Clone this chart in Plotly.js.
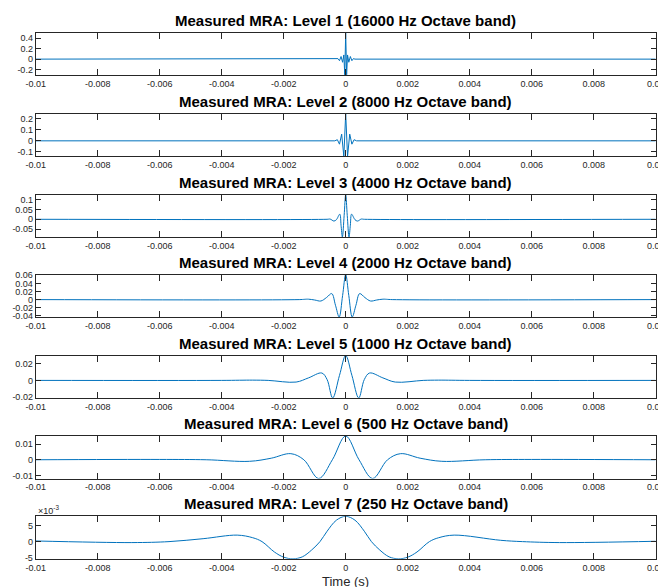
<!DOCTYPE html>
<html>
<head>
<meta charset="utf-8">
<script src="https://cdn.plot.ly/plotly-3.0.1.min.js"></script>
<style>html,body{margin:0;padding:0;background:#fff;overflow:hidden;}#chart{width:658px;height:587px;}</style>
</head>
<body>
<div id="chart"></div>
<script>
// ---- data ----
const levelTitles = [
  "Measured MRA: Level 1 (16000 Hz Octave band)",
  "Measured MRA: Level 2 (8000 Hz Octave band)",
  "Measured MRA: Level 3 (4000 Hz Octave band)",
  "Measured MRA: Level 4 (2000 Hz Octave band)",
  "Measured MRA: Level 5 (1000 Hz Octave band)",
  "Measured MRA: Level 6 (500 Hz Octave band)",
  "Measured MRA: Level 7 (250 Hz Octave band)"
];
const xTickVals = [-0.01, -0.008, -0.006, -0.004, -0.002, 0, 0.002, 0.004, 0.006, 0.008, 0.01];
const xTickLabels = ["-0.01", "-0.008", "-0.006", "-0.004", "-0.002", "0", "0.002", "0.004", "0.006", "0.008", "0.01"];

const t1 = [-0.01, -0.0003, -0.00025, -0.0002, -0.00015, -0.0001, -0.00006, -0.00003, 0, 0.00003, 0.00006, 0.0001, 0.00015, 0.0002, 0.00025, 0.0003, 0.01];
const v1 = [0, 0, 0.01, -0.03, 0.05, -0.06, 0.08, -0.3, 0.5, -0.3, 0.08, -0.06, 0.05, -0.03, 0.01, 0, 0];

const t2 = [-0.01, -0.00035, -0.00027, -0.0002, -0.00013, -0.00006, 0, 0.00006, 0.00013, 0.0002, 0.00027, 0.00035, 0.01];
const v2 = [0, 0, 0.01, -0.03, 0.06, -0.14, 0.245, -0.14, 0.06, -0.03, 0.01, 0, 0];

const t3 = [-0.01, -0.0006, -0.0005, -0.00038, -0.0003, -0.00019, -0.00015, -0.000107, -0.00005, 0, 0.00005, 0.000107, 0.00015, 0.00019, 0.0003, 0.00038, 0.0005, 0.0006, 0.01];
const v3 = [0, 0, 0.001, -0.009, -0.002, 0.026, -0.03, -0.09, 0.02, 0.126, 0.02, -0.09, -0.03, 0.026, -0.002, -0.009, 0.001, 0, 0];

const t4 = [-0.01, -0.0015, -0.0012, -0.001, -0.0008, -0.00062, -0.00045, -0.00033, -0.00021, -0.0001, 0, 0.0001, 0.00021, 0.00033, 0.00045, 0.00062, 0.0008, 0.001, 0.0012, 0.0015, 0.01];
const v4 = [0, 0, 0.001, -0.001, -0.0035, 0.005, 0.0148, -0.014, -0.043, 0.01, 0.062, 0.01, -0.043, -0.014, 0.0148, 0.005, -0.0035, -0.001, 0.001, 0, 0];

const t5 = [-0.01, -0.004, -0.003, -0.0025, -0.0016, -0.0012, -0.00077, -0.0006, -0.00042, -0.0002, 0, 0.0002, 0.00042, 0.0006, 0.00077, 0.0012, 0.0016, 0.0025, 0.003, 0.004, 0.01];
const v5 = [0, 0, 0.0003, 0, -0.002, 0.003, 0.0088, 0.001, -0.021, 0.006, 0.0297, 0.006, -0.021, 0.001, 0.0088, 0.003, -0.002, 0, 0.0003, 0, 0];

const t6 = [-0.01, -0.006, -0.0045, -0.0031, -0.0024, -0.00177, -0.00135, -0.00087, -0.00043, 0, 0.00043, 0.00087, 0.00135, 0.00177, 0.0024, 0.0031, 0.0045, 0.006, 0.01];
const v6 = [0, 0.0002, 0, -0.001, 0.001, 0.0039, 0, -0.012, 0, 0.0152, 0, -0.012, 0, 0.0039, 0.001, -0.001, 0, 0.0002, 0];

const t7 = [-0.01, -0.0069, -0.0057, -0.0046, -0.0035, -0.003, -0.0027, -0.0023, -0.002, -0.0017, -0.0014, -0.0011, -0.00083, -0.0006, -0.0003, 0, 0.0003, 0.0006, 0.00083, 0.0011, 0.0014, 0.0017, 0.002, 0.0023, 0.0027, 0.003, 0.0035, 0.005, 0.0057, 0.0069, 0.01];
const v7 = [0.0002, -0.0003, 0, 0.0009, 0.002, 0.0012, 0, -0.0032, -0.0048, -0.0053, -0.0047, -0.0026, 0, 0.0032, 0.0066, 0.0078, 0.0066, 0.0032, 0, -0.0026, -0.0047, -0.0053, -0.0048, -0.0032, 0, 0.0012, 0.002, 0.0004, 0, -0.0003, 0.0001];

const yTickVals = [
  [-0.2, 0, 0.2, 0.4],
  [-0.1, 0, 0.1, 0.2],
  [-0.05, 0, 0.05, 0.1],
  [-0.04, -0.02, 0, 0.02, 0.04, 0.06],
  [-0.02, 0, 0.02],
  [-0.01, 0, 0.01],
  [-0.005, 0, 0.005]
];
const yTickLabels = [
  ["-0.2", "0", "0.2", "0.4"],
  ["-0.1", "0", "0.1", "0.2"],
  ["-0.05", "0", "0.05", "0.1"],
  ["-0.04", "-0.02", "0", "0.02", "0.04", "0.06"],
  ["-0.02", "0", "0.02"],
  ["-0.01", "0", "0.01"],
  ["-5", "0", "5"]
];
const xTitle = "Time (s)";
const exponentLabel = "\u00d710<sup>-3</sup>";

// ---- layout / styling ----
const W = 658, H = 587;
const series = [[t1, v1], [t2, v2], [t3, v3], [t4, v4], [t5, v5], [t6, v6], [t7, v7]];
const yRanges = [[-0.307, 0.505], [-0.136, 0.245], [-0.09, 0.126], [-0.043, 0.062], [-0.021, 0.0297], [-0.012, 0.0152], [-0.0053, 0.0078]];
const tops = [32.7, 113.5, 194.5, 274.5, 355.5, 436, 516.3];
const ph = 42.5;
const xl = 35.7, xr = 655.7;
const axCol = '#262626';
const lineCol = '#0072BD';
const fam = 'Liberation Sans, Arial, Helvetica, sans-serif';

const traces = [];
const layout = {
  width: W, height: H,
  margin: {l: 0, r: 0, t: 0, b: 0, pad: 0},
  paper_bgcolor: '#ffffff', plot_bgcolor: '#ffffff',
  showlegend: false,
  font: {family: fam, color: axCol},
  annotations: []
};

series.forEach((s, i) => {
  const k = i + 1;
  const sfx = k === 1 ? '' : String(k);
  traces.push({
    x: s[0], y: s[1], type: 'scatter', mode: 'lines',
    xaxis: 'x' + sfx, yaxis: 'y' + sfx,
    line: {color: lineCol, width: 1, shape: k <= 2 ? 'linear' : 'spline', smoothing: 1},
    hoverinfo: 'skip'
  });
  const top = tops[i], bot = tops[i] + ph;
  layout['xaxis' + sfx] = {
    domain: [xl / W, xr / W], range: [-0.01, 0.01], anchor: 'y' + sfx,
    tickmode: 'array', tickvals: xTickVals, ticktext: xTickLabels,
    ticks: 'inside', ticklen: 6, tickwidth: 1, tickcolor: axCol,
    showline: true, linecolor: axCol, linewidth: 1, mirror: 'ticks',
    showgrid: false, zeroline: false, tickangle: 0, automargin: false,
    ticklabeloverflow: 'allow',
    tickfont: {family: fam, size: 9, color: axCol}
  };
  layout['yaxis' + sfx] = {
    domain: [1 - bot / H, 1 - top / H], range: yRanges[i], anchor: 'x' + sfx,
    tickmode: 'array', tickvals: yTickVals[i], ticktext: yTickLabels[i],
    ticks: 'inside', ticklen: 5, tickwidth: 1, tickcolor: axCol,
    showline: true, linecolor: axCol, linewidth: 1, mirror: 'ticks',
    showgrid: false, zeroline: false, automargin: false,
    ticklabeloverflow: 'allow',
    tickfont: {family: fam, size: 9, color: axCol}
  };
  layout.annotations.push({
    text: '<b>' + levelTitles[i] + '</b>', xref: 'paper', yref: 'paper',
    x: (xl + xr) / 2 / W, y: 1 - (top - 12.5) / H, xanchor: 'center', yanchor: 'middle',
    showarrow: false, font: {family: fam, size: 15, color: '#000000'}
  });
});

layout.annotations.push({
  text: xTitle, xref: 'paper', yref: 'paper',
  x: (xl + xr) / 2 / W, y: 1 - 581 / H, xanchor: 'center', yanchor: 'middle',
  showarrow: false, font: {family: fam, size: 13, color: axCol}
});
layout.annotations.push({
  text: exponentLabel, xref: 'paper', yref: 'paper',
  x: xl / W, y: 1 - 510 / H, xanchor: 'left', yanchor: 'middle',
  showarrow: false, font: {family: fam, size: 9, color: axCol}
});

Plotly.newPlot('chart', traces, layout, {staticPlot: true, displayModeBar: false});
</script>
</body>
</html>
